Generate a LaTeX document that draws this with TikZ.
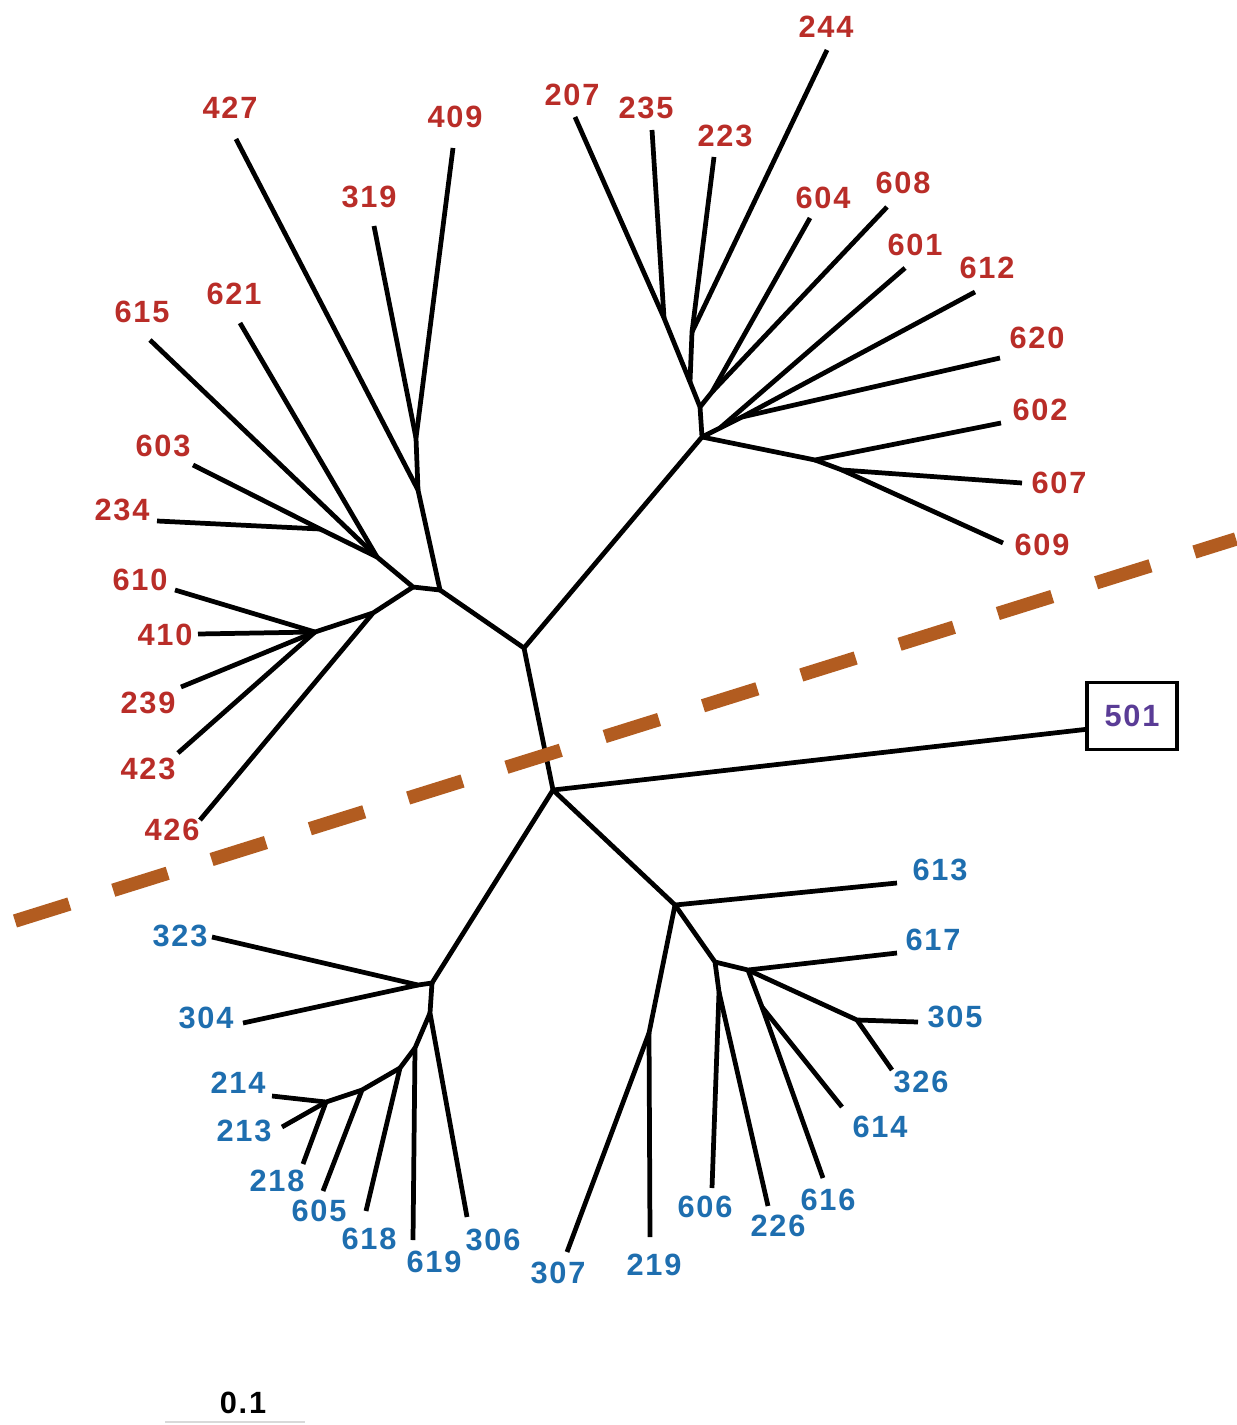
\documentclass[tikz,border=0pt]{standalone}
\usepackage{fontspec}
\setsansfont{Liberation Sans}
\newfontfamily\taxonfont[LetterSpace=6]{Liberation Sans}
\usepackage{tikz}
\definecolor{clustred}{RGB}{185,45,40}
\definecolor{clustblue}{RGB}{30,110,175}
\definecolor{outpurple}{RGB}{90,60,150}
\definecolor{cutbrown}{RGB}{178,92,32}

\begin{document}
\begin{tikzpicture}[
    x=0.02cm, y=-0.02cm,
    branch/.style={line width=2.7pt, black, line join=round},
    taxon/.style={font=\taxonfont\bfseries\fontsize{17.5}{20}\selectfont, inner sep=1pt},
    redtaxon/.style={taxon, text=clustred},
    bluetaxon/.style={taxon, text=clustblue},
    outbox/.style={taxon, text=outpurple, draw=black, line width=2.2pt, minimum width=1.8cm, minimum height=1.34cm},
    cutline/.style={cutbrown, line width=0.27cm, dash pattern=on 1.14cm off 0.92cm}
]
    \fill[white] (0,0) rectangle (1236,1425);
    \useasboundingbox (0,0) rectangle (1236,1425);

    % Central junctions
    \coordinate (A) at (524,648);
    \coordinate (B) at (553,790);

    % Upper left group
    \coordinate (ul1) at (440,590);
    \coordinate (ul2) at (413,587);
    \coordinate (ul3) at (418,490);
    \coordinate (ul4) at (416,438);
    \coordinate (ul5) at (377,557);
    \coordinate (ul7) at (320,529);
    \coordinate (ul9) at (373,613);
    \coordinate (ul6) at (315,632);
    \coordinate (t427) at (236,139);
    \coordinate (t409) at (453,148);
    \coordinate (t319) at (374,226);
    \coordinate (t615) at (150,340);
    \coordinate (t621) at (240,323);
    \coordinate (t603) at (193,465);
    \coordinate (t234) at (157,521);
    \coordinate (t610) at (175,590);
    \coordinate (t410) at (198,634);
    \coordinate (t239) at (181,687);
    \coordinate (t423) at (178,753);
    \coordinate (t426) at (200,820);

    % Upper right group
    \coordinate (ur1) at (702,437);
    \coordinate (ur2) at (700,407);
    \coordinate (ur5) at (690,382);
    \coordinate (ur7) at (664,318);
    \coordinate (ur8) at (692,332);
    \coordinate (ur6) at (712,392);
    \coordinate (ur11) at (720,428);
    \coordinate (ur9) at (742,417);
    \coordinate (ur3) at (815,460);
    \coordinate (ur10) at (842,470);
    \coordinate (t207) at (575,117);
    \coordinate (t235) at (652,130);
    \coordinate (t223) at (714,157);
    \coordinate (t244) at (827,50);
    \coordinate (t604) at (810,218);
    \coordinate (t608) at (887,207);
    \coordinate (t601) at (905,268);
    \coordinate (t612) at (975,292);
    \coordinate (t620) at (1000,358);
    \coordinate (t602) at (1001,423);
    \coordinate (t607) at (1022,483);
    \coordinate (t609) at (1003,543);

    % Lower right group
    \coordinate (lr1) at (675,905);
    \coordinate (lr2) at (715,962);
    \coordinate (lr3) at (649,1033);
    \coordinate (lr4) at (719,992);
    \coordinate (lr5) at (748,970);
    \coordinate (lr6) at (762,1007);
    \coordinate (lr7) at (857,1020);
    \coordinate (t613) at (897,883);
    \coordinate (t617) at (897,953);
    \coordinate (t305) at (918,1022);
    \coordinate (t326) at (892,1070);
    \coordinate (t614) at (842,1107);
    \coordinate (t616) at (823,1178);
    \coordinate (t226) at (768,1206);
    \coordinate (t606) at (712,1188);
    \coordinate (t219) at (650,1237);
    \coordinate (t307) at (567,1252);

    % Lower left group
    \coordinate (ll1) at (432,983);
    \coordinate (ll5) at (418,985);
    \coordinate (ll2) at (430,1013);
    \coordinate (ll3) at (415,1048);
    \coordinate (ll6) at (400,1068);
    \coordinate (ll7) at (362,1090);
    \coordinate (ll8) at (326,1102);
    \coordinate (t323) at (212,937);
    \coordinate (t304) at (243,1023);
    \coordinate (t214) at (272,1096);
    \coordinate (t213) at (282,1127);
    \coordinate (t218) at (303,1164);
    \coordinate (t605) at (323,1191);
    \coordinate (t618) at (366,1211);
    \coordinate (t619) at (413,1240);
    \coordinate (t306) at (467,1217);

    % Outgroup
    \node[outbox] (s501) at (1132,716) {501};

    % Branches
    \draw[branch] (A) -- (B);
    \draw[branch] (B) -- (s501.196);

    \draw[branch] (A) -- (ul1) -- (ul3) -- (t427);
    \draw[branch] (ul3) -- (ul4) -- (t409);
    \draw[branch] (ul4) -- (t319);
    \draw[branch] (ul1) -- (ul2) -- (ul5) -- (t615);
    \draw[branch] (ul5) -- (t621);
    \draw[branch] (ul5) -- (ul7) -- (t603);
    \draw[branch] (ul7) -- (t234);
    \draw[branch] (ul2) -- (ul9) -- (t426);
    \draw[branch] (ul9) -- (ul6) -- (t610);
    \draw[branch] (ul6) -- (t410);
    \draw[branch] (ul6) -- (t239);
    \draw[branch] (ul6) -- (t423);

    \draw[branch] (A) -- (ur1) -- (ur2) -- (ur5) -- (ur7) -- (t207);
    \draw[branch] (ur7) -- (t235);
    \draw[branch] (ur5) -- (ur8) -- (t223);
    \draw[branch] (ur8) -- (t244);
    \draw[branch] (ur2) -- (ur6) -- (t604);
    \draw[branch] (ur6) -- (t608);
    \draw[branch] (ur1) -- (ur11) -- (t601);
    \draw[branch] (ur11) -- (ur9) -- (t612);
    \draw[branch] (ur9) -- (t620);
    \draw[branch] (ur1) -- (ur3) -- (t602);
    \draw[branch] (ur3) -- (ur10) -- (t607);
    \draw[branch] (ur10) -- (t609);

    \draw[branch] (B) -- (lr1) -- (t613);
    \draw[branch] (lr1) -- (lr3) -- (t307);
    \draw[branch] (lr3) -- (t219);
    \draw[branch] (lr1) -- (lr2) -- (lr4) -- (t606);
    \draw[branch] (lr4) -- (t226);
    \draw[branch] (lr2) -- (lr5) -- (t617);
    \draw[branch] (lr5) -- (lr6) -- (t614);
    \draw[branch] (lr6) -- (t616);
    \draw[branch] (lr5) -- (lr7) -- (t305);
    \draw[branch] (lr7) -- (t326);

    \draw[branch] (B) -- (ll1) -- (ll5) -- (t323);
    \draw[branch] (ll5) -- (t304);
    \draw[branch] (ll1) -- (ll2) -- (t306);
    \draw[branch] (ll2) -- (ll3) -- (t619);
    \draw[branch] (ll3) -- (ll6) -- (t618);
    \draw[branch] (ll6) -- (ll7) -- (t605);
    \draw[branch] (ll7) -- (ll8) -- (t214);
    \draw[branch] (ll8) -- (t213);
    \draw[branch] (ll8) -- (t218);

    % Labels, red cluster
    \node[redtaxon] (l427) at (230,108) {427};
    \node[redtaxon] (l409) at (455,117) {409};
    \node[redtaxon] (l319) at (369,197) {319};
    \node[redtaxon] (l615) at (142,312) {615};
    \node[redtaxon] (l621) at (234,294) {621};
    \node[redtaxon] (l603) at (163,446) {603};
    \node[redtaxon] (l234) at (122,510) {234};
    \node[redtaxon] (l610) at (140,580) {610};
    \node[redtaxon] (l410) at (165,635) {410};
    \node[redtaxon] (l239) at (148,703) {239};
    \node[redtaxon] (l423) at (148,769) {423};
    \node[redtaxon] (l426) at (172,830) {426};
    \node[redtaxon] (l207) at (572,95) {207};
    \node[redtaxon] (l235) at (646,108) {235};
    \node[redtaxon] (l223) at (725,136) {223};
    \node[redtaxon] (l244) at (826,27) {244};
    \node[redtaxon] (l604) at (823,198) {604};
    \node[redtaxon] (l608) at (903,183) {608};
    \node[redtaxon] (l601) at (915,245) {601};
    \node[redtaxon] (l612) at (987,268) {612};
    \node[redtaxon] (l620) at (1037,338) {620};
    \node[redtaxon] (l602) at (1040,410) {602};
    \node[redtaxon] (l607) at (1059,483) {607};
    \node[redtaxon] (l609) at (1042,545) {609};

    % Labels, blue cluster
    \node[bluetaxon] (l613) at (940,870) {613};
    \node[bluetaxon] (l617) at (933,940) {617};
    \node[bluetaxon] (l305) at (955,1017) {305};
    \node[bluetaxon] (l326) at (921,1082) {326};
    \node[bluetaxon] (l614) at (880,1127) {614};
    \node[bluetaxon] (l616) at (828,1200) {616};
    \node[bluetaxon] (l226) at (778,1226) {226};
    \node[bluetaxon] (l606) at (705,1207) {606};
    \node[bluetaxon] (l219) at (654,1265) {219};
    \node[bluetaxon] (l307) at (558,1273) {307};
    \node[bluetaxon] (l323) at (180,936) {323};
    \node[bluetaxon] (l304) at (206,1018) {304};
    \node[bluetaxon] (l214) at (238,1083) {214};
    \node[bluetaxon] (l213) at (244,1131) {213};
    \node[bluetaxon] (l218) at (277,1181) {218};
    \node[bluetaxon] (l605) at (319,1211) {605};
    \node[bluetaxon] (l618) at (369,1239) {618};
    \node[bluetaxon] (l619) at (434,1262) {619};
    \node[bluetaxon] (l306) at (493,1240) {306};

    % Cut between the two clusters
    \coordinate (cutl) at (15,921);
    \coordinate (cutr) at (1236,539);
    \draw[cutline] (cutl) -- (cutr);

    % Scale bar
    \node[taxon] (scale) at (243,1403) {0.1};
    \coordinate (sbl) at (165,1422);
    \coordinate (sbr) at (305,1422);
    \draw[black!15, line width=1pt] (sbl) -- (sbr);
\end{tikzpicture}
\end{document}
